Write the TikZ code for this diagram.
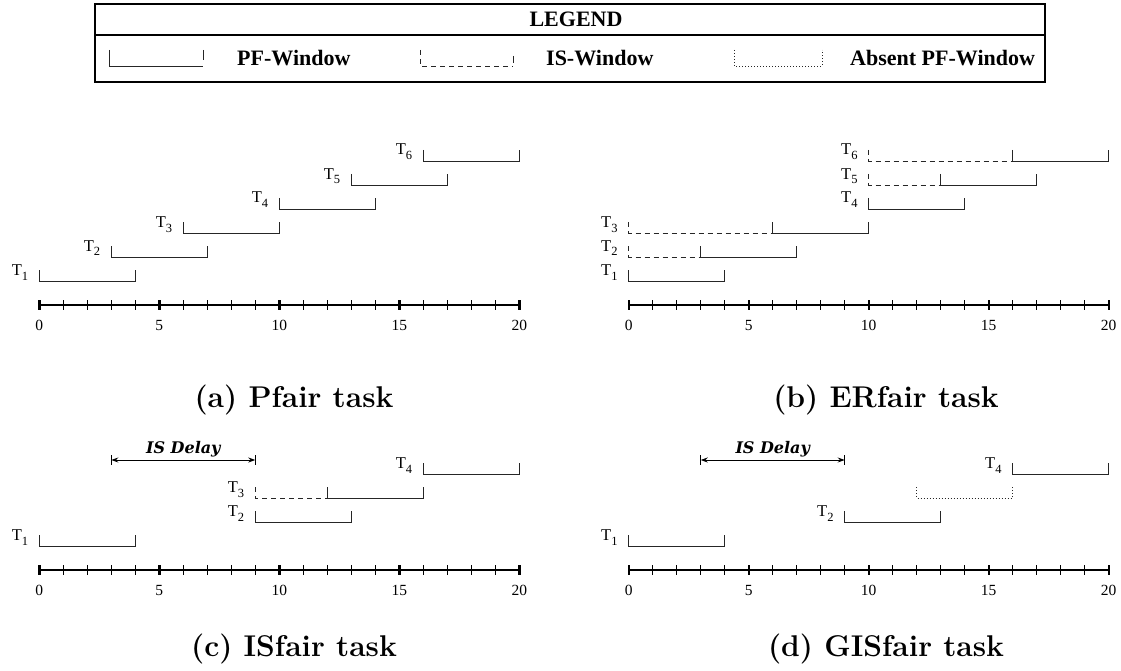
\documentclass[tikz,border=0pt]{standalone}
\usepackage{fontspec}
\usetikzlibrary{arrows.meta}
\newfontfamily\tms{Liberation Serif}
\newfontfamily\dvs{DejaVu Serif}
\newcommand{\Tsub}[1]{T\raisebox{-5pt}{\fontsize{12.5}{12.5}\selectfont #1}}
\newcommand{\PFwin}[3]{\draw[win] (#2,#1-11) -- (#2,#1) -- (#3,#1) -- (#3,#1-11);}
\newcommand{\ISwin}[3]{\draw[iswin] (#2,#1-11) -- (#2,#1) -- (#3,#1);}
\newcommand{\ABwin}[3]{\draw[abwin] (#2,#1-11) -- (#2,#1) -- (#3,#1) -- (#3,#1-11);}
\newcommand{\TL}[4]{\node[tlabel] (#4) at ([xshift=-11pt]#2,#1-6) {\Tsub{#3}};}
\newcommand{\TimeAxis}[2]{%
  \draw[axisline] (0,#1) -- (20,#1);
  \foreach \i in {1,...,19} {\draw[minortick] (\i,#1-5) -- (\i,#1+5);}
  \foreach \i in {0,5,...,20} {\draw[majortick] (\i,#1-5) -- (\i,#1+5);
    \node[numlabel] (#2-n\i) at (\i,#1+20) {\i};}
}
\tikzset{
  win/.style={line width=0.9pt, draw=black!85},
  iswin/.style={line width=0.9pt, draw=black!85, dash pattern=on 5pt off 4pt},
  abwin/.style={line width=0.9pt, draw=black!85, dash pattern=on 1pt off 2pt},
  axisline/.style={line width=1.2pt},
  minortick/.style={line width=0.9pt},
  majortick/.style={line width=2.4pt},
  tlabel/.style={font=\tms\fontsize{16.5}{16.5}\selectfont, anchor=base east, inner sep=0pt},
  numlabel/.style={font=\tms\fontsize{15.5}{16}\selectfont, inner sep=0pt},
  capstyle/.style={font=\fontsize{30}{34}\selectfont\bfseries, inner sep=0pt},
  legtext/.style={font=\tms\bfseries\fontsize{22}{22}\selectfont, inner sep=0pt},
  legline/.style={line width=1.6pt},
  delay/.style={line width=1pt, {Stealth[length=7pt,width=5pt]}-{Stealth[length=7pt,width=5pt]}},
  delaybar/.style={line width=1pt},
  delaytext/.style={font=\dvs\bfseries\itshape\fontsize{16}{16}\selectfont, inner sep=0pt},
}
\begin{document}
\begin{tikzpicture}[x=1pt,y=-1pt]
\useasboundingbox (0,0) rectangle (1121,671);
% legend
\draw[legline] (95,4) rectangle (1045,82);
\draw[legline] (95,35) -- (1045,35);
\node[legtext] (legtitle) at (576,19) {LEGEND};
\draw[win] (109,50) -- (109,66) -- (203,66);
\draw[win] (203,50) -- (203,60);
\node[legtext, anchor=west] (legpf) at (237,58) {PF-Window};
\draw[iswin] (420,50) -- (420,66) -- (513,66);
\draw[win] (513,56) -- (513,63);
\node[legtext, anchor=west] (legis) at (546,58) {IS-Window};
\draw[abwin] (734,50) -- (734,66) -- (822,66) -- (822,50);
\node[legtext, anchor=west] (legab) at (850,58) {Absent PF-Window};
% (a)
\begin{scope}[xshift=39.3pt, x=24pt]
  \PFwin{281}{0}{4}   \TL{281}{0}{1}{a-T1}
  \PFwin{257}{3}{7}   \TL{257}{3}{2}{a-T2}
  \PFwin{233}{6}{10}  \TL{233}{6}{3}{a-T3}
  \PFwin{209}{10}{14} \TL{209}{10}{4}{a-T4}
  \PFwin{185}{13}{17} \TL{185}{13}{5}{a-T5}
  \PFwin{161}{16}{20} \TL{161}{16}{6}{a-T6}
  \TimeAxis{305}{a}
\end{scope}
\node[capstyle] (capa) at (294,400) {(a) Pfair task};
% (b)
\begin{scope}[xshift=628.7pt, x=24pt]
  \PFwin{281}{0}{4}   \TL{281}{0}{1}{b-T1}
  \ISwin{257}{0}{3} \PFwin{257}{3}{7}   \TL{257}{0}{2}{b-T2}
  \ISwin{233}{0}{6} \PFwin{233}{6}{10}  \TL{233}{0}{3}{b-T3}
  \PFwin{209}{10}{14} \TL{209}{10}{4}{b-T4}
  \ISwin{185}{10}{13} \PFwin{185}{13}{17} \TL{185}{10}{5}{b-T5}
  \ISwin{161}{10}{16} \PFwin{161}{16}{20} \TL{161}{10}{6}{b-T6}
  \TimeAxis{305}{b}
\end{scope}
\node[capstyle] (capb) at (886,400) {(b) ERfair task};
% (c)
\begin{scope}[xshift=39.3pt, x=24pt]
  \PFwin{546}{0}{4}   \TL{546}{0}{1}{c-T1}
  \PFwin{522}{9}{13}  \TL{522}{9}{2}{c-T2}
  \ISwin{498}{9}{12} \PFwin{498}{12}{16} \TL{498}{9}{3}{c-T3}
  \PFwin{474}{16}{20} \TL{474}{16}{4}{c-T4}
  \coordinate (c-ds) at (3,460);
  \coordinate (c-de) at (9,460);
  \draw[delaybar] (3,455) -- (3,465);
  \draw[delaybar] (9,455) -- (9,465);
  \draw[delay] (c-ds) -- (c-de);
  \node[delaytext] (c-dt) at (6,449) {IS Delay};
  \TimeAxis{570}{c}
\end{scope}
\node[capstyle] (capc) at (294,649) {(c) ISfair task};
% (d)
\begin{scope}[xshift=628.7pt, x=24pt]
  \PFwin{546}{0}{4}   \TL{546}{0}{1}{d-T1}
  \PFwin{522}{9}{13}  \TL{522}{9}{2}{d-T2}
  \ABwin{498}{12}{16}
  \PFwin{474}{16}{20} \TL{474}{16}{4}{d-T4}
  \coordinate (d-ds) at (3,460);
  \coordinate (d-de) at (9,460);
  \draw[delaybar] (3,455) -- (3,465);
  \draw[delaybar] (9,455) -- (9,465);
  \draw[delay] (d-ds) -- (d-de);
  \node[delaytext] (d-dt) at (6,449) {IS Delay};
  \TimeAxis{570}{d}
\end{scope}
\node[capstyle] (capd) at (886,649) {(d) GISfair task};
\end{tikzpicture}
\end{document}
